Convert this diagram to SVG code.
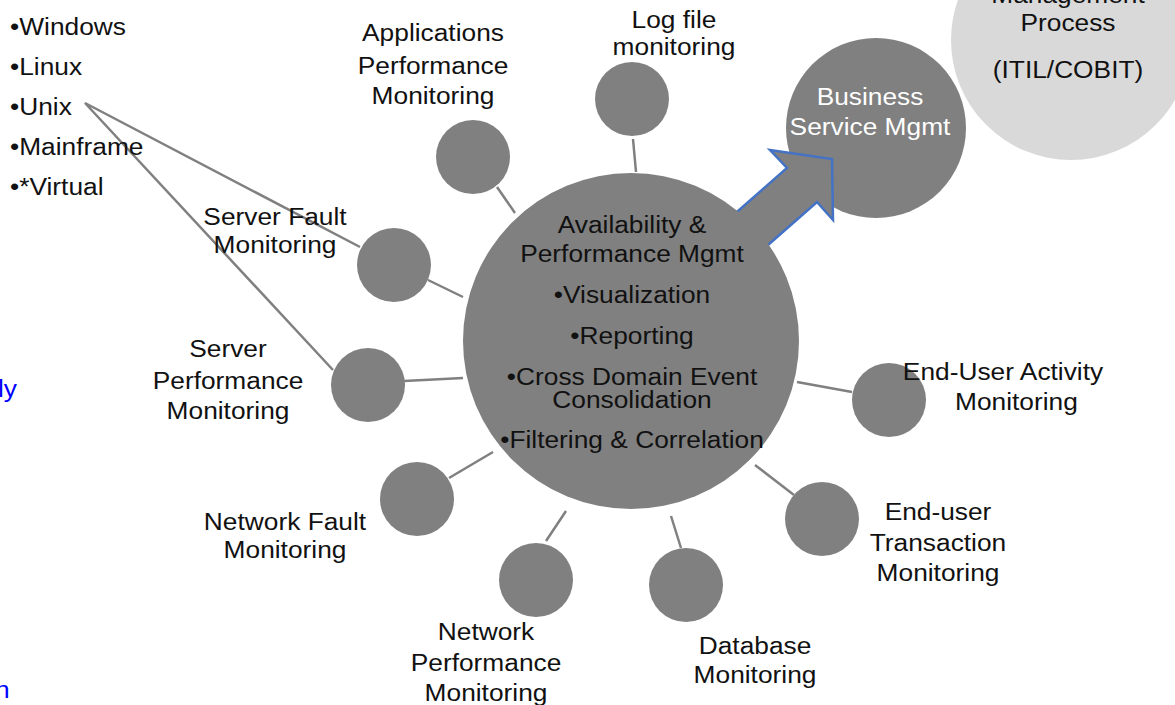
<svg xmlns="http://www.w3.org/2000/svg" width="1175" height="705" viewBox="0 0 1175 705">
<style>
.t{font-family:"Liberation Sans",Arial,sans-serif;font-size:23.5px;fill:#111;text-anchor:middle}
.l{text-anchor:start}
.w{fill:#fff}
.b{fill:#0000ff;text-anchor:start}
.sm{fill:#808080}
.con{stroke:#808080;stroke-width:2.5;fill:none}
</style>
<rect width="1175" height="705" fill="#fff"/>
<g id="itil">
<circle cx="1071" cy="40" r="120" fill="#d9d9d9"/>
<text class="t" transform="matrix(1.12 0 0 1 1068 0)"><tspan x="0" y="3">Management</tspan><tspan x="0" y="31">Process</tspan><tspan x="0" y="78">(ITIL/COBIT)</tspan></text>
</g>
<g id="bsm">
<circle cx="876" cy="128" r="90" fill="#808080"/>
</g>
<g id="connectors">
<polygon points="689,254 738,211 787,168 770,150 832,159 833,220 817,202 768,245 719,288" fill="#808080" stroke="#4472c4" stroke-width="2.5" stroke-linejoin="miter"/>
<line class="con" x1="497" y1="187" x2="515" y2="213"/>
<line class="con" x1="633" y1="139" x2="636" y2="172"/>
<line class="con" x1="428" y1="280" x2="463" y2="297"/>
<line class="con" x1="404" y1="381" x2="463" y2="378"/>
<line class="con" x1="449" y1="478" x2="493" y2="452"/>
<line class="con" x1="546" y1="541" x2="566" y2="511"/>
<line class="con" x1="681" y1="548" x2="671" y2="516"/>
<line class="con" x1="794" y1="495" x2="755" y2="465"/>
<line class="con" x1="852" y1="392" x2="797" y2="382"/>
<polyline class="con" stroke-width="2" points="360,247 85,103 333,370"/>
</g>
<g id="center">
<circle cx="631" cy="341" r="168" fill="#808080"/>
<text class="t" transform="matrix(1.12 0 0 1 632 0)"><tspan x="0" y="233">Availability &amp;</tspan><tspan x="0" y="262">Performance Mgmt</tspan><tspan x="0" y="303">•Visualization</tspan><tspan x="0" y="344">•Reporting</tspan><tspan x="0" y="385">•Cross Domain Event</tspan><tspan x="0" y="408">Consolidation</tspan><tspan x="0" y="448">•Filtering &amp; Correlation</tspan></text>
</g>
<g id="bsm-label">
<text class="t w" transform="matrix(1.12 0 0 1 870 0)"><tspan x="0" y="105">Business</tspan><tspan x="0" y="135">Service Mgmt</tspan></text>
</g>
<g id="os-list">
<text class="t l" transform="matrix(1.12 0 0 1 10 0)"><tspan x="0" y="35">•Windows</tspan><tspan x="0" y="75">•Linux</tspan><tspan x="0" y="115">•Unix</tspan><tspan x="0" y="155">•Mainframe</tspan><tspan x="0" y="195">•*Virtual</tspan></text>
</g>
<g id="apm">
<circle class="sm" cx="473" cy="157" r="37"/>
<text class="t" transform="matrix(1.12 0 0 1 433 0)"><tspan x="0" y="41">Applications</tspan><tspan x="0" y="74">Performance</tspan><tspan x="0" y="104">Monitoring</tspan></text>
</g>
<g id="logfile">
<circle class="sm" cx="632" cy="99" r="37"/>
<text class="t" transform="matrix(1.12 0 0 1 674 0)"><tspan x="0" y="28">Log file</tspan><tspan x="0" y="55">monitoring</tspan></text>
</g>
<g id="serverfault">
<circle class="sm" cx="394" cy="265" r="37"/>
<text class="t" transform="matrix(1.12 0 0 1 275 0)"><tspan x="0" y="225">Server Fault</tspan><tspan x="0" y="253">Monitoring</tspan></text>
</g>
<g id="serverperf">
<circle class="sm" cx="368" cy="385" r="37"/>
<text class="t" transform="matrix(1.12 0 0 1 228 0)"><tspan x="0" y="357">Server</tspan><tspan x="0" y="389">Performance</tspan><tspan x="0" y="419">Monitoring</tspan></text>
</g>
<g id="netfault">
<circle class="sm" cx="417" cy="499" r="37"/>
<text class="t" transform="matrix(1.12 0 0 1 285 0)"><tspan x="0" y="530">Network Fault</tspan><tspan x="0" y="558">Monitoring</tspan></text>
</g>
<g id="netperf">
<circle class="sm" cx="536" cy="580" r="37"/>
<text class="t" transform="matrix(1.12 0 0 1 486 0)"><tspan x="0" y="640">Network</tspan><tspan x="0" y="671">Performance</tspan><tspan x="0" y="701">Monitoring</tspan></text>
</g>
<g id="database">
<circle class="sm" cx="686" cy="585" r="37"/>
<text class="t" transform="matrix(1.12 0 0 1 755 0)"><tspan x="0" y="654">Database</tspan><tspan x="0" y="683">Monitoring</tspan></text>
</g>
<g id="eut">
<circle class="sm" cx="822" cy="519" r="37"/>
<text class="t" transform="matrix(1.12 0 0 1 938 0)"><tspan x="0" y="520">End-user</tspan><tspan x="0" y="551">Transaction</tspan><tspan x="0" y="581">Monitoring</tspan></text>
</g>
<g id="eua">
<circle class="sm" cx="889" cy="400" r="37"/>
<text class="t" transform="matrix(1.12 0 0 1 1003 0)"><tspan x="0" y="380">End-User Activity</tspan><tspan x="12" y="410">Monitoring</tspan></text>
</g>
<g id="clipped-blue">
<text class="t b" transform="matrix(1.12 0 0 1 -2 0)" x="0" y="397">ly</text>
<text class="t b" transform="matrix(1.12 0 0 1 -5 0)" x="0" y="698">n</text>
</g>
</svg>
